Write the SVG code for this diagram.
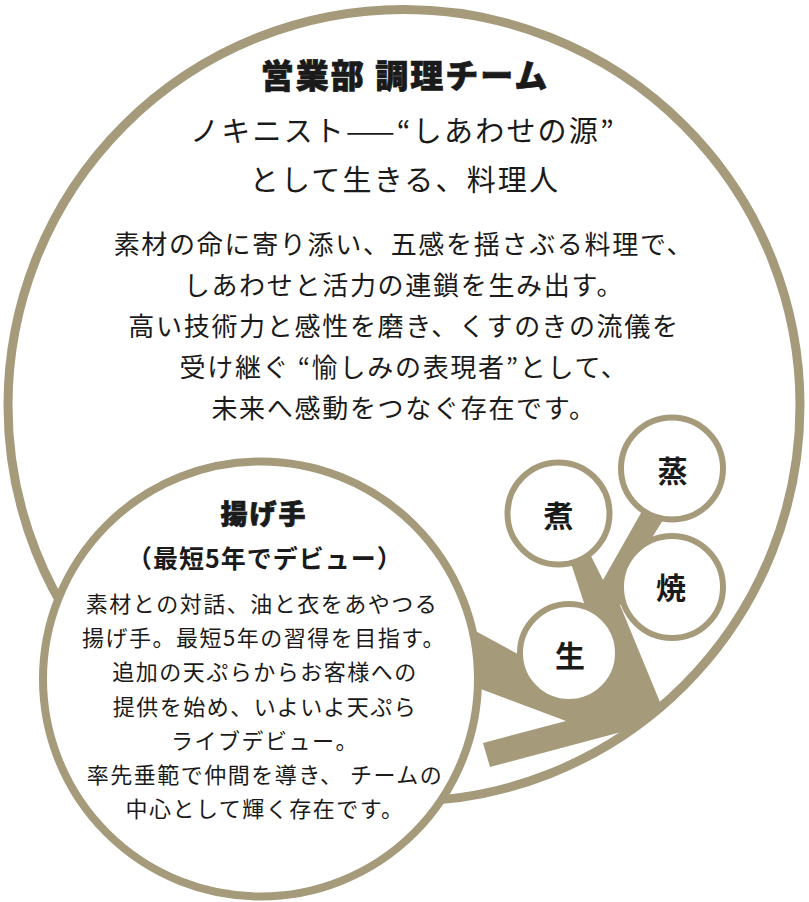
<svg xmlns="http://www.w3.org/2000/svg" width="809" height="902" viewBox="0 0 809 902">
<style>
.ring{fill:#fff;stroke:#a59b7b}
.big{stroke-width:9}
.sm{stroke-width:8}
.node{stroke-width:6}
.t{font-family:"Noto Sans CJK JP","Noto Sans",sans-serif;fill:#1a1a1a;text-anchor:middle}
.b{font-weight:700}
.heavy{stroke:#1a1a1a;stroke-width:0.7px}
.title{font-size:33px;letter-spacing:2px;font-weight:900}
.head{font-size:29px;letter-spacing:2.2px}
.body{font-size:26px;letter-spacing:1.7px}
.sbody{font-size:22px;letter-spacing:1.5px}
.lab{font-size:30px}
</style>
<g id="team">
<circle class="ring big" cx="404" cy="405.5" r="396"/>
<text class="t title heavy" x="405" y="88">営業部 調理チーム</text>
<text class="t head" x="403" y="141.5">ノキニスト——“しあわせの源”</text>
<text class="t head" x="405" y="190.5">として生きる、料理人</text>
<text class="t body" x="404" y="254">素材の命に寄り添い、五感を揺さぶる料理で、</text>
<text class="t body" x="404" y="295">しあわせと活力の連鎖を生み出す。</text>
<text class="t body" x="404" y="336">高い技術力と感性を磨き、くすのきの流儀を</text>
<text class="t body" x="404" y="377">受け継ぐ “愉しみの表現者”として、</text>
<text class="t body" x="404" y="418">未来へ感動をつなぐ存在です。</text>
</g>
<g id="connectors">
<polygon fill="#a59b7b" points="483,743 566,721 470,685 470,628 540,666 585,606 565,545 583,540 603,580 650,497 673,504 635,565 632,600 620,605 662,707 625,731 490,767"/>
</g>
<g id="agete">
<circle class="ring sm" cx="260.5" cy="679" r="217.5"/>
<text class="t b heavy" style="font-size:27px;letter-spacing:2px;font-weight:900" x="264" y="523.5">揚げ手</text>
<text class="t b" style="font-size:25px;letter-spacing:1px" x="265" y="568">（最短5年でデビュー）</text>
<text class="t sbody" x="262" y="612">素材との対話、油と衣をあやつる</text>
<text class="t sbody" x="264" y="646">揚げ手。最短5年の習得を目指す。</text>
<text class="t sbody" x="265" y="680">追加の天ぷらからお客様への</text>
<text class="t sbody" x="265" y="715">提供を始め、いよいよ天ぷら</text>
<text class="t sbody" x="265" y="749">ライブデビュー。</text>
<text class="t sbody" x="265" y="783">率先垂範で仲間を導き、 チームの</text>
<text class="t sbody" x="265" y="817">中心として輝く存在です。</text>
</g>
<g id="nama">
<circle class="ring node" cx="569" cy="653" r="49"/>
<text class="t b lab" x="570" y="667">生</text>
</g>
<g id="niru">
<circle class="ring node" cx="558.5" cy="513.5" r="51"/>
<text class="t b lab" x="558.5" y="527">煮</text>
</g>
<g id="musu">
<circle class="ring node" cx="672" cy="468.5" r="51"/>
<text class="t b lab" x="672.5" y="482">蒸</text>
</g>
<g id="yaku">
<circle class="ring node" cx="672" cy="587" r="51"/>
<text class="t b lab" x="671" y="599">焼</text>
</g>
</svg>
